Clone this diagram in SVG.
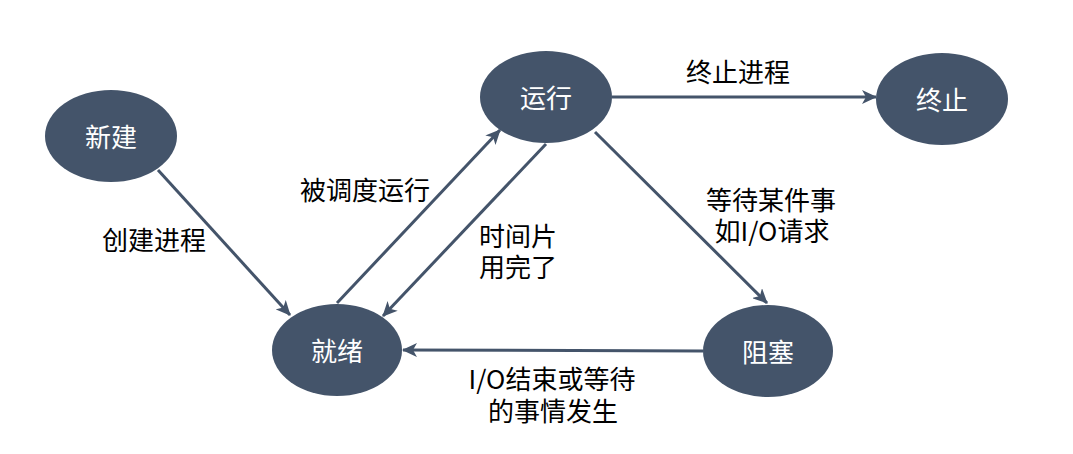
<svg xmlns="http://www.w3.org/2000/svg" width="1073" height="454" viewBox="0 0 1073 454">
<defs>
<style>
.node ellipse{fill:#44546A;}
.node text{fill:#FFFFFF;font-family:"Noto Sans CJK SC","Liberation Sans",sans-serif;font-size:26px;text-anchor:middle;}
.edge line{stroke:#44546A;stroke-width:3;marker-end:url(#arr);}
.lbl{fill:#000000;font-family:"Noto Sans CJK SC","Liberation Sans",sans-serif;font-size:26px;text-anchor:middle;}
</style>
<marker id="arr" markerUnits="userSpaceOnUse" markerWidth="16" markerHeight="14" refX="14" refY="7" orient="auto">
<path d="M0,0 L15,7 L0,14 L4,7 Z" fill="#44546A"/>
</marker>
</defs>
<rect width="1073" height="454" fill="#FFFFFF"/>
<g id="connectors" class="edge">
<line x1="158" y1="170" x2="290" y2="315"/>
<line x1="337" y1="303" x2="500" y2="130"/>
<line x1="546" y1="144" x2="383" y2="316"/>
<line x1="595" y1="132" x2="767" y2="303"/>
<line x1="703" y1="351" x2="403" y2="350"/>
<line x1="612" y1="97" x2="876" y2="97"/>
</g>
<g id="labels">
<text class="lbl" x="738" y="82">终止进程</text>
<text class="lbl" x="154" y="250">创建进程</text>
<text class="lbl" x="365" y="200">被调度运行</text>
<text class="lbl" x="518" y="246">时间片<tspan x="518" dy="31">用完了</tspan></text>
<text class="lbl" x="771" y="210">等待某件事<tspan x="772" dy="31">如I/O请求</tspan></text>
<text class="lbl" x="552" y="389">I/O结束或等待<tspan x="553" dy="32">的事情发生</tspan></text>
</g>
<g id="node-xinjian" class="node"><ellipse cx="111" cy="136" rx="66" ry="46"/><text x="111" y="147">新建</text></g>
<g id="node-yunxing" class="node"><ellipse cx="546" cy="97" rx="66" ry="46"/><text x="546" y="108">运行</text></g>
<g id="node-zhongzhi" class="node"><ellipse cx="942" cy="99" rx="66" ry="46"/><text x="942" y="110">终止</text></g>
<g id="node-jiuxu" class="node"><ellipse cx="337" cy="350" rx="65" ry="46"/><text x="337" y="361">就绪</text></g>
<g id="node-zusai" class="node"><ellipse cx="768" cy="351" rx="65" ry="46"/><text x="768" y="362">阻塞</text></g>
</svg>
